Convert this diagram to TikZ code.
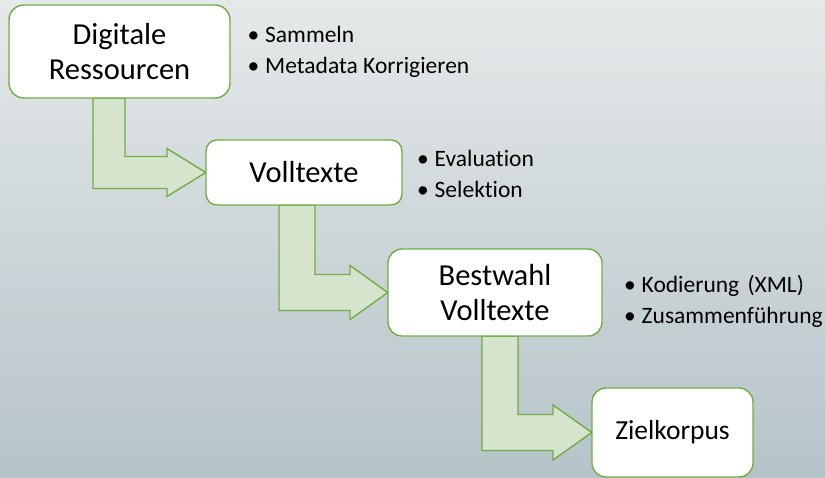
\documentclass[tikz,border=0pt]{standalone}
\usepackage{fontspec}
\setmainfont{Carlito}[Ligatures=NoCommon]
\usepackage{xcolor}
\usetikzlibrary{calc}

\definecolor{boxgreen}{HTML}{70AD47}
\definecolor{arrowfill}{HTML}{D6E3CD}
\definecolor{bgtop}{HTML}{E6E9EA}
\definecolor{bgbottom}{HTML}{B5C3C8}

\tikzset{
  stage/.style={draw=boxgreen,line width=1.4pt,fill=white,inner sep=0,align=center,
    font=\fontsize{30.5}{35}\selectfont},
  flowarrow/.style={draw=boxgreen,line width=1.4pt,fill=arrowfill,line join=miter},
  notes/.style={anchor=base west,inner sep=0,align=left,
    font=\fontsize{23.5}{31}\selectfont}
}
\newcommand{\dotitem}[1]{\makebox[17.5pt][l]{\textbullet}#1}
% #1 from, #2 to, #3 stem left, #4 stem width, #5 head base, #6 half head
\newcommand{\bentarrow}[6]{%
  \draw[flowarrow] let \p1=(#1.south), \p2=(#2.west) in
    ({#3pt},{\y1}) -- ({#3pt},{\y2-#4pt/2}) -- ({#5pt},{\y2-#4pt/2})
    -- ({#5pt},{\y2-#6pt}) -- (\x2,\y2) -- ({#5pt},{\y2+#6pt})
    -- ({#5pt},{\y2+#4pt/2}) -- ({#3pt+#4pt},{\y2+#4pt/2})
    -- ({#3pt+#4pt},{\y1}) -- cycle;}

\begin{document}
\begin{tikzpicture}[x=1pt,y=-1pt]
\useasboundingbox (0,0) rectangle (825,477);
\shade[top color=bgtop,bottom color=bgbottom] (0,0) rectangle (825,477);

% arrows first, boxes on top
\path (119.5,51.5) node[minimum width=221pt,minimum height=93pt] (res) {}
      (304,172.5) node[minimum width=196pt,minimum height=65pt] (voll) {}
      (495,292.5) node[minimum width=214pt,minimum height=87pt] (best) {}
      (672.5,432.5) node[minimum width=161pt,minimum height=89pt] (ziel) {};
\bentarrow{res}{voll}{93}{32}{167}{24}
\bentarrow{voll}{best}{279}{36}{350}{27}
\bentarrow{best}{ziel}{482}{36}{553}{27.5}

\node[stage,rounded corners=15pt,minimum width=221pt,minimum height=93pt] (resbox) at (res) {Digitale\\Ressourcen};
\node[stage,rounded corners=11pt,minimum width=196pt,minimum height=65pt] (vollbox) at (voll) {Volltexte};
\node[stage,rounded corners=14pt,minimum width=214pt,minimum height=87pt] (bestbox) at (best) {Bestwahl\\Volltexte};
\node[stage,rounded corners=14pt,minimum width=161pt,minimum height=89pt,
  font=\fontsize{27.5}{33}\selectfont] (zielbox) at (ziel) {Zielkorpus};

% anchor is the baseline of the last line
\node[notes] (resnotes) at (247.5,73) {\dotitem{Sammeln}\\\dotitem{Metadata Korrigieren}};
\node[notes] (vollnotes) at (417,197) {\dotitem{Evaluation}\\\dotitem{Selektion}};
\node[notes] (bestnotes) at (624,323) {\dotitem{Kodierung\hspace{3pt} (XML)}\\\dotitem{Zusammenführung}};
\end{tikzpicture}
\end{document}
